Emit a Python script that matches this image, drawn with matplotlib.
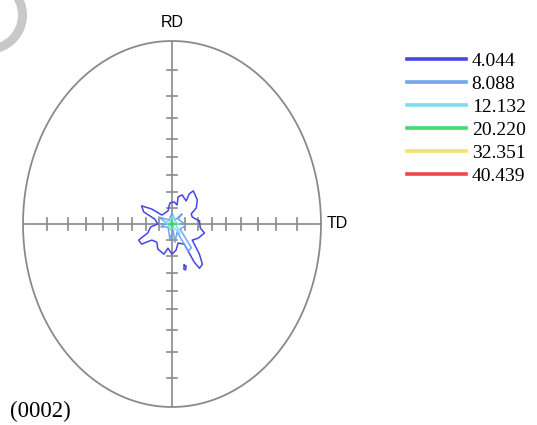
import numpy as np
import matplotlib.pyplot as plt
from matplotlib.patches import Wedge

# contour levels of the (0002) pole figure and their colours
levels = ["4.044", "8.088", "12.132", "20.220", "32.351", "40.439"]
level_colors = ["#4646e4", "#6fa6ee", "#7fdcf0", "#40dc74", "#f6e070", "#ee4646"]

# contour outlines (fractions of the pole figure radius)
blue_x = [0.184, 0.136, 0.129, 0.163, 0.170, 0.143, 0.116, 0.095, 0.068, 0.041,
          0.034, 0.014, -0.014, -0.027, -0.068, -0.136, -0.204, -0.190, -0.116,
          -0.095, -0.143, -0.163, -0.224, -0.204, -0.136, -0.102, -0.095, -0.054,
          -0.027, 0.000, 0.027, 0.041, 0.082, 0.150, 0.184, 0.204, 0.184, 0.136,
          0.177, 0.218, 0.190, 0.184]
blue_y = [0.016, 0.038, 0.055, 0.088, 0.132, 0.181, 0.165, 0.126, 0.159, 0.148,
          0.104, 0.121, 0.115, 0.071, 0.049, 0.082, 0.099, 0.066, 0.027, 0.000,
          -0.016, -0.049, -0.088, -0.110, -0.088, -0.099, -0.137, -0.165, -0.132,
          -0.165, -0.143, -0.104, -0.110, -0.209, -0.242, -0.220, -0.165, -0.088,
          -0.077, -0.049, -0.022, 0.016]
lblue_x = [0.075, 0.041, 0.068, 0.020, 0.000, -0.020, -0.090, -0.034, -0.075,
           -0.027, -0.014, 0.007, 0.020, 0.034, 0.110, 0.130, 0.054, 0.088, 0.075]
lblue_y = [0.005, 0.027, 0.055, 0.022, 0.060, 0.022, 0.038, 0.005, -0.016,
           -0.016, -0.082, -0.033, -0.099, -0.044, -0.148, -0.130, -0.027, -0.011, 0.005]
cyan_x = [0.041, 0.020, 0.007, -0.014, -0.048, -0.020, -0.014, 0.007, 0.054, 0.027, 0.041]
cyan_y = [0.000, 0.016, 0.044, 0.016, 0.011, -0.005, -0.033, -0.016, -0.055, -0.005, 0.000]
green_x = [0.027, 0.007, 0.000, -0.007, -0.027, -0.007, 0.000, 0.007, 0.027]
green_y = [0.000, 0.005, 0.022, 0.005, 0.000, -0.005, -0.022, -0.005, 0.000]
spot_x = [0.082, 0.095, 0.092, 0.080, 0.082]
spot_y = [-0.225, -0.230, -0.250, -0.248, -0.225]

outlines = [[(blue_x, blue_y), (spot_x, spot_y)], [(lblue_x, lblue_y)],
            [(cyan_x, cyan_y)], [(green_x, green_y)], [], []]

tick_angles = [10, 20, 30, 40, 50, 60, 70, 80]

fig = plt.figure(figsize=(5.37, 4.25), dpi=100)

# background decoration (grey crescent top left)
bg = fig.add_axes([0, 0, 1, 1])
bg.set_xlim(0, 537)
bg.set_ylim(425, 0)
bg.axis("off")
bg.add_patch(Wedge((-12, 15), 39, -90, 90, width=9, color="#c8c8c8", lw=0))

# axes box = the pole figure circle (stretched into an ellipse like the source image)
ax = fig.add_axes([23 / 537, 18 / 425, 298 / 537, 366 / 425])
ax.set_xlim(-1.0, 1.0)
ax.set_ylim(-1.0, 1.0)
ax.axis("off")

grey = "#8a8a8a"
t = np.linspace(0, 2 * np.pi, 400)
ax.plot(np.cos(t), np.sin(t), color=grey, lw=1.3, clip_on=False)
ax.plot([-1, 1], [0, 0], color=grey, lw=1.2)
ax.plot([0, 0], [-1, 1], color=grey, lw=1.2)

# stereographic ticks every 10 degrees
for a in tick_angles:
    r = np.tan(np.radians(a) / 2)
    for s in (-1, 1):
        ax.plot([s * r, s * r], [-0.033, 0.033], color=grey, lw=1.2)
        ax.plot([-0.034, 0.034], [s * r, s * r], color=grey, lw=1.2)

handles = []
for lvl, c, shapes in zip(levels, level_colors, outlines):
    for xs, ys in shapes:
        ax.plot(xs, ys, color=c, lw=1.1, solid_joinstyle="round")
    h, = ax.plot([], [], color=c, lw=2.6, label=lvl)
    handles.append(h)

ax.text(0, 1.06, "RD", ha="center", va="bottom", fontsize=11.5,
        family="Liberation Sans", clip_on=False)
ax.text(1.04, 0, "TD", ha="left", va="center", fontsize=11.5,
        family="Liberation Sans", clip_on=False)
fig.text(10 / 537, 1 - 411 / 425, "(0002)", ha="left", va="center",
         fontsize=16.5, family="Liberation Serif")

fig.legend(handles=handles, loc="upper left",
           bbox_to_anchor=(407 / 537, 1 - 52 / 425), frameon=False,
           borderpad=0, borderaxespad=0, handlelength=3.05, handletextpad=0.28,
           labelspacing=0.28, prop={"family": "Liberation Serif", "size": 14})

fig.savefig("out.png", dpi=100)
